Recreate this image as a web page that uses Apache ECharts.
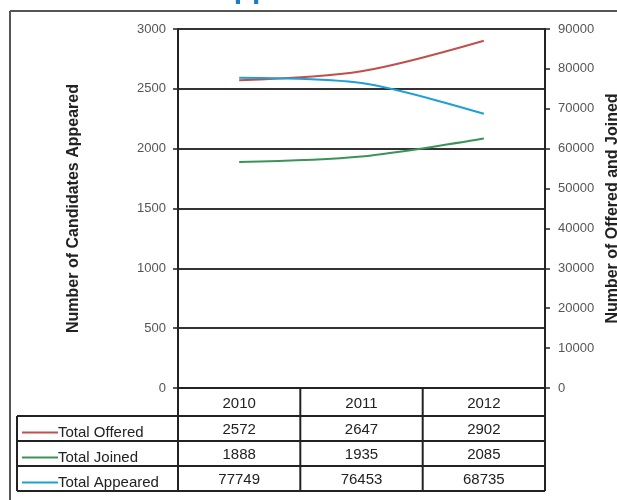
<!DOCTYPE html>
<html>
<head>
<meta charset="utf-8">
<script src="https://cdn.jsdelivr.net/npm/echarts@6/dist/echarts.min.js"></script>
<style>html,body{margin:0;padding:0;background:#fff;}#c{width:617px;height:500px;}</style>
</head>
<body>
<div id="c"></div>
<script>
var years = ['2010', '2011', '2012'];
var totalOffered = [2572, 2647, 2902];
var totalJoined = [1888, 1935, 2085];
var totalAppeared = [77749, 76453, 68735];
var leftTicks = {min: 0, max: 3000, interval: 500};
var rightTicks = {min: 0, max: 90000, interval: 10000};
var seriesNames = ['Total Offered', 'Total Joined', 'Total Appeared'];
var colors = ['#c0504d', '#3b9457', '#1e9fd8'];

var chart = echarts.init(document.getElementById('c'));
var font = 'Liberation Sans, Arial, sans-serif';
var rowAxis = function (vals, off) {
  return {
    type: 'category', gridIndex: 0, position: 'bottom', offset: off,
    data: vals.map(String),
    axisLine: {show: false}, axisTick: {show: false}, splitLine: {show: false},
    axisLabel: {color: '#222', fontSize: 15, fontFamily: font, margin: 9},
    axisPointer: {show: false}
  };
};
var L = [];
function ln(x1, y1, x2, y2, w, c) {
  L.push({type: 'line', shape: {x1: x1, y1: y1, x2: x2, y2: y2}, style: {stroke: c || '#222', lineWidth: w || 2}, z: 100});
}
// outer frame
ln(10, 11, 617, 11, 2, '#555');
ln(10, 11, 10, 500, 2, '#555');
// table
[416, 441, 466, 491].forEach(function (y) { ln(17, y, 545, y); });
ln(17, 416, 17, 491);
[178, 300.3, 422.7, 545].forEach(function (x) { ln(x, 388, x, 491); });

var legends = seriesNames.map(function (n, i) {
  return {
    left: 17, top: 420 + i * 25, height: 20,
    itemWidth: 36, itemHeight: 2, itemGap: 0, icon: 'rect',
    data: [n],
    textStyle: {color: '#222', fontSize: 15, fontFamily: font, padding: [0, 0, 0, -5]}
  };
});

var plain = function (v) { return String(v); };

chart.setOption({
  animation: false,
  color: colors,
  title: {
    text: 'Candidates Appeared',
    left: 37, top: -30,
    textStyle: {color: '#1f7ac0', fontSize: 30, fontWeight: 'bold', fontFamily: font}
  },
  legend: legends,
  grid: {left: 178, right: 72, top: 29, bottom: 112, outerBoundsMode: 'none', containLabel: false},
  xAxis: [
    {
      type: 'category', data: years, boundaryGap: true,
      axisLine: {lineStyle: {color: '#222', width: 2}},
      axisTick: {show: false},
      axisLabel: {color: '#222', fontSize: 15, fontFamily: font, margin: 8}
    },
    rowAxis(totalOffered, 25),
    rowAxis(totalJoined, 50),
    rowAxis(totalAppeared, 75)
  ],
  yAxis: [
    {
      type: 'value', min: leftTicks.min, max: leftTicks.max, interval: leftTicks.interval,
      name: 'Number of Candidates Appeared', nameLocation: 'middle', nameGap: 96,
      nameTextStyle: {color: '#222', fontSize: 16, fontWeight: 'bold', fontFamily: font},
      axisLine: {show: true, lineStyle: {color: '#222', width: 2}},
      axisTick: {show: true, length: 5, lineStyle: {color: '#222', width: 1.5}},
      axisLabel: {color: '#555', fontSize: 13, fontFamily: font, margin: 12, formatter: plain},
      splitLine: {show: true, lineStyle: {color: '#333', width: 2}}
    },
    {
      type: 'value', min: rightTicks.min, max: rightTicks.max, interval: rightTicks.interval,
      position: 'right',
      name: 'Number of Offered and Joined', nameLocation: 'middle', nameGap: 60,
      nameTextStyle: {color: '#222', fontSize: 16, fontWeight: 'bold', fontFamily: font},
      axisLine: {show: true, lineStyle: {color: '#222', width: 2}},
      axisTick: {show: true, length: 5, lineStyle: {color: '#222', width: 1.5}},
      axisLabel: {color: '#555', fontSize: 13, fontFamily: font, margin: 13, formatter: plain},
      splitLine: {show: false}
    }
  ],
  series: [
    {name: seriesNames[0], type: 'line', yAxisIndex: 0, data: totalOffered, smooth: 0.3, symbol: 'none', lineStyle: {width: 2}},
    {name: seriesNames[1], type: 'line', yAxisIndex: 0, data: totalJoined, smooth: 0.3, symbol: 'none', lineStyle: {width: 2}},
    {name: seriesNames[2], type: 'line', yAxisIndex: 1, data: totalAppeared, smooth: 0.3, symbol: 'none', lineStyle: {width: 2}}
  ],
  graphic: L
});
</script>
</body>
</html>
